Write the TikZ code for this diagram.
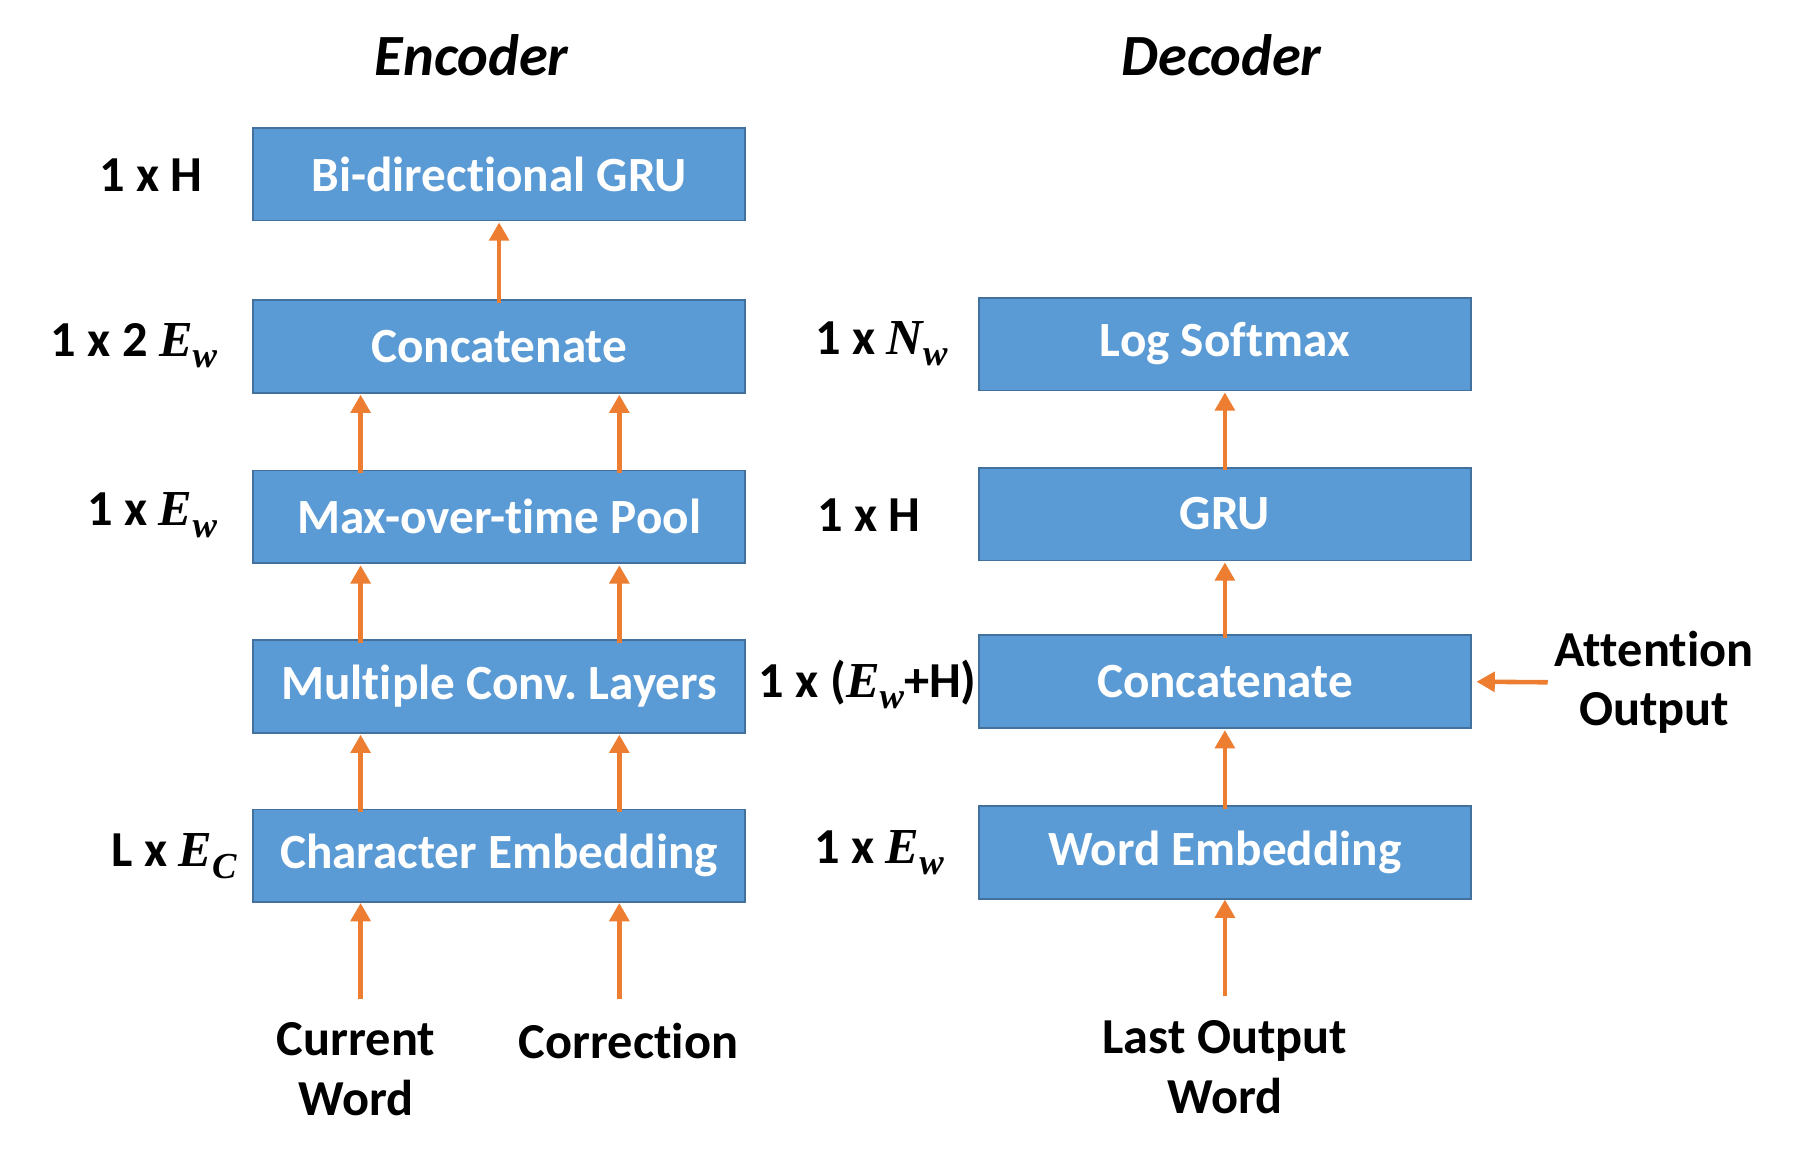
\documentclass[tikz,border=0pt]{standalone}
\usepackage{fontspec}
\setmainfont{Carlito}[Ligatures={NoCommon}]
\newfontfamily\mfont{Liberation Serif}[BoldItalicFont={* Bold Italic}]
\usetikzlibrary{arrows.meta}
\frenchspacing
\definecolor{boxfill}{HTML}{5B9BD5}
\definecolor{boxline}{HTML}{41719C}
\definecolor{arrcol}{HTML}{ED7D31}
\newcommand\Sym[2]{{\mfont\bfseries\itshape #1}\raisebox{-10pt}{\fontsize{32}{34}\selectfont\mfont\bfseries\itshape #2}}
\tikzset{
  blk/.style={draw=boxline, line width=1.5pt, fill=boxfill, minimum width=430pt, minimum height=81pt, inner sep=0pt, text=white, font=\fontsize{43}{50}\selectfont\bfseries},
  lbl/.style={inner sep=2pt, font=\fontsize{44}{50}\selectfont\bfseries},
  ttl/.style={inner sep=0pt, font=\fontsize{51}{56}\selectfont\bfseries\itshape},
  txt/.style={inner sep=2pt, align=center, font=\fontsize{44}{52}\selectfont\bfseries},
  arr/.style={draw=arrcol, line width=4pt, -{Triangle[length=16pt,width=17pt]}}
}
\begin{document}
\begin{tikzpicture}[x=1pt,y=-1pt]
\useasboundingbox (0,0) rectangle (1568,1012);
% titles
\node[ttl] (enc) at (412,48) {Encoder};
\node[ttl] (dec) at (1067,48) {Decoder};
% encoder boxes
\node[blk] (bgru) at (436,152) {Bi-directional GRU};
\node[blk] (econ) at (436,302.5) {Concatenate};
\node[blk] (pool) at (436,451.5) {Max-over-time Pool};
\node[blk] (conv) at (436,599.5) {Multiple Conv. Layers};
\node[blk] (cemb) at (436,747.5) {Character Embedding};
% decoder boxes
\node[blk] (lsm) at (1070,300.5) {Log Softmax};
\node[blk] (gru) at (1070,449) {GRU};
\node[blk] (dcon) at (1070,595.5) {Concatenate};
\node[blk] (wemb) at (1070,744.5) {Word Embedding};
% encoder labels
\node[lbl] (l1) at (132,153) {1 x H};
\node[lbl] (l2) at (117,302) {1 x 2 \Sym{E}{w}};
\node[lbl] (l3) at (133,450) {1 x \Sym{E}{w}};
\node[lbl] (l4) at (152,748) {L x \Sym{E}{C}};
% decoder labels
\node[lbl] (r1) at (770,300) {1 x \Sym{N}{w}};
\node[lbl] (r2) at (759,450) {1 x H};
\node[lbl] (r3) at (758,598) {1 x (\Sym{E}{w}+H)};
\node[lbl] (r4) at (768,745) {1 x \Sym{E}{w}};
% inputs
\node[txt] (cw) at (311,934) {Current\\Word};
\node[txt] (corr) at (549,909) {Correction};
\node[txt] (low) at (1070,932) {Last Output\\Word};
\node[txt] (att) at (1445,596) {Attention\\Output};
% encoder arrows
\coordinate (cws) at (315,873);
\coordinate (cos) at (541,873);
\coordinate (los) at (1070,870);
\draw[arr] (cws) -- (cws |- cemb.south);
\draw[arr] (cos) -- (cos |- cemb.south);
\foreach \lo/\hi in {cemb/conv, conv/pool, pool/econ}{
  \draw[arr] ([xshift=-121pt,yshift=-3pt]\lo.north) -- ([xshift=-121pt,yshift=-1pt]\hi.south);
  \draw[arr] ([xshift=105pt,yshift=-3pt]\lo.north) -- ([xshift=105pt,yshift=-1pt]\hi.south);
}
\draw[arr] ([yshift=-3pt]econ.north) -- ([yshift=-1pt]bgru.south);
% decoder arrows
\draw[arr] (los) -- (los |- wemb.south);
\foreach \lo/\hi in {wemb/dcon, dcon/gru, gru/lsm}{
  \draw[arr] ([yshift=-3pt]\lo.north) -- ([yshift=-1pt]\hi.south);
}
\coordinate (as) at (1352,596);
\draw[arr] (as) -- ([xshift=4pt]dcon.east);
\end{tikzpicture}
\end{document}
